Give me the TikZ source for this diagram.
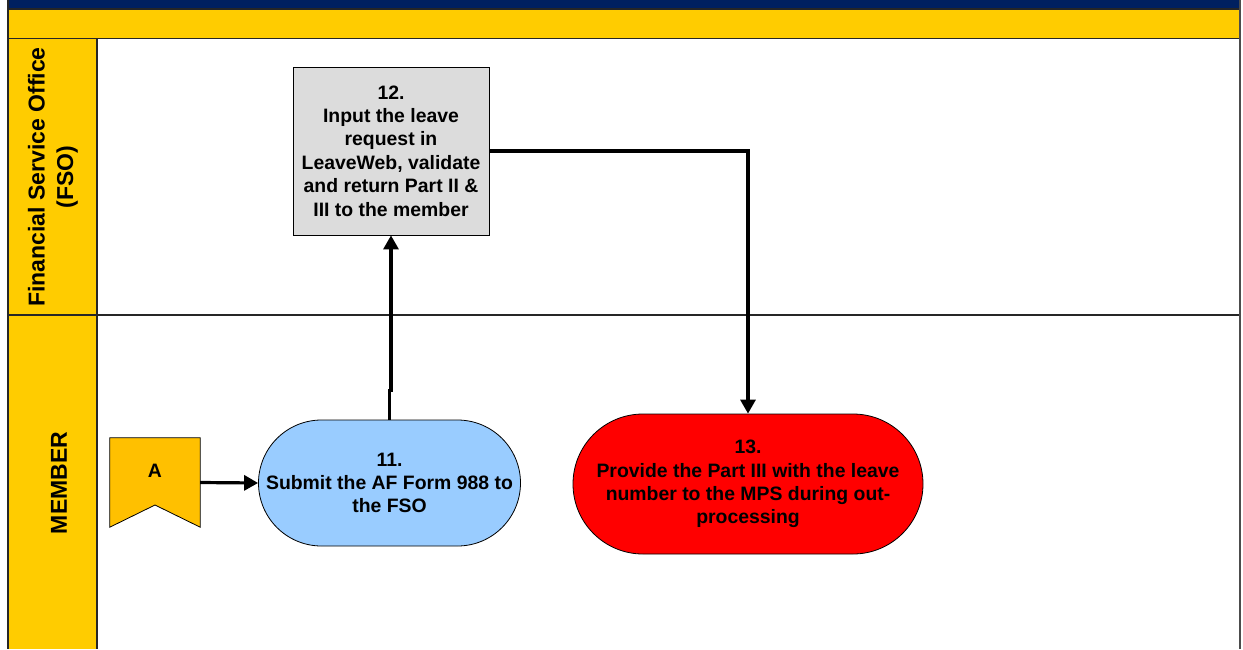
\documentclass[tikz,border=0pt]{standalone}
\usepackage{fontspec}
\setmainfont{Liberation Sans}
\usetikzlibrary{arrows.meta}
\definecolor{navy}{HTML}{002060}
\definecolor{laneyellow}{HTML}{FFCC00}
\definecolor{flagorange}{HTML}{FFC000}
\definecolor{stepblue}{HTML}{99CCFF}
\definecolor{stepgray}{HTML}{DCDCDC}
\definecolor{stepred}{HTML}{FF0000}
\tikzset{
  boxfont/.style={font=\bfseries\fontsize{19.4}{23.4}\selectfont, align=center},
  lanefont/.style={font=\bfseries\fontsize{23}{28.5}\selectfont, align=center, rotate=90},
  taskbox/.style={boxfont, draw=black, line width=0.8pt, fill=stepgray, minimum width=196pt, minimum height=168pt, inner sep=0pt},
  terminal/.style={boxfont, draw=black, line width=0.8pt, inner sep=0pt},
  flow/.style={line width=3.2pt, -{Triangle[length=14pt,width=15pt]}},
  laneline/.style={line width=1.1pt, draw=black!85}
}
\begin{document}
\begin{tikzpicture}[x=1pt,y=-1pt]
\useasboundingbox (0,0) rectangle (1243,649);
% header bars
\fill[navy] (8,0) rectangle (1240,9);
\fill[laneyellow] (8,9) rectangle (1240,38);
\draw[laneline, line width=1.3pt] (8,9) -- (1240,9);
\draw[laneline, line width=1.3pt] (8,38.5) -- (1240,38.5);
% lane label column
\fill[laneyellow] (8,38.5) rectangle (97,649);
\draw[laneline] (8,0) -- (8,649);
\draw[laneline] (97,38.5) -- (97,649);
\draw[laneline] (8,315) -- (1240,315);
\draw[line width=2pt, draw=black!70] (1240,0) -- (1240,649);
% lane titles
\node[lanefont] (fso) at (53,177) {Financial Service Office\\(FSO)};
\node[lanefont] (member) at (59,483) {MEMBER};
% off-page connector A
\node[boxfont, minimum width=90pt, minimum height=89pt, inner sep=0pt] (A) at (155,482.5) {};
\draw[line width=0.8pt, fill=flagorange] (A.north west) -- (A.north east) -- (A.south east) -- (155,505) -- (A.south west) -- cycle;
\node[boxfont, anchor=center] (Alabel) at (155,471) {A};
% steps
\node[terminal, fill=stepblue, minimum width=262pt, minimum height=126pt, rounded corners=63pt] (s11) at (389.5,483) {11.\\Submit the AF Form 988 to\\the FSO};
\node[taskbox] (s12) at (391,151) {12.\\Input the leave\\request in\\LeaveWeb, validate\\and return Part II \&\\III to the member};
\node[terminal, fill=stepred, minimum width=350pt, minimum height=140pt, rounded corners=70pt] (s13) at (748,484) {13.\\Provide the Part III with the leave\\number to the MPS during out-\\processing};
% connectors
\draw[flow] (A.east) -- (s11.west);
\draw[flow] (s11.north) -- ++(0,-29) -| (s12.south);
\draw[flow] (s12.east |- 0,151) -- (748,151) -- (s13.north);
\end{tikzpicture}
\end{document}
